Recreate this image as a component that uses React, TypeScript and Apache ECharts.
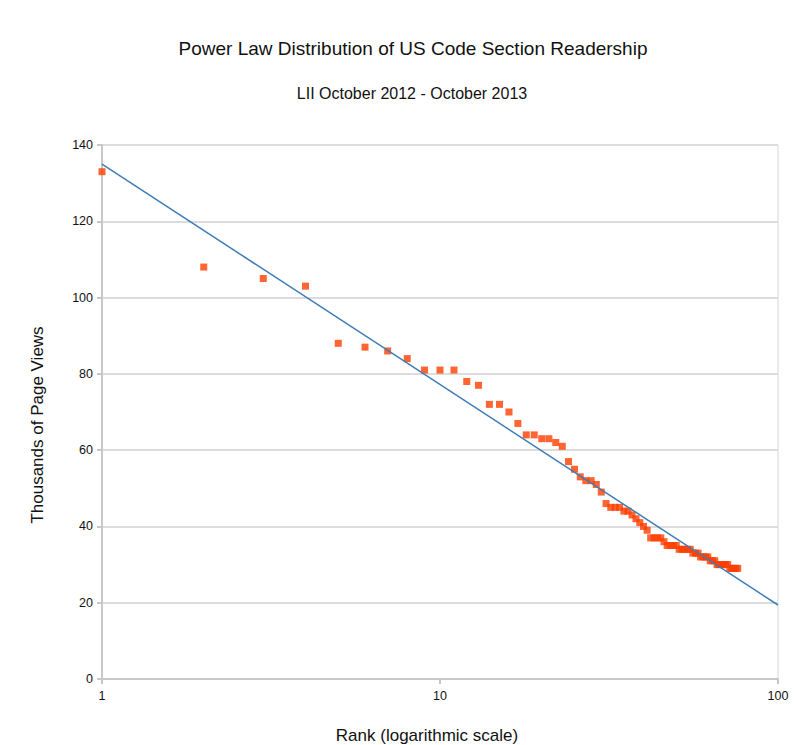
import React, { useEffect, useRef } from "react";
import * as echarts from "echarts";

const ranks: number[] = Array.from({ length: 76 }, (_, i) => i + 1);
const views: number[] = [
  133, 108, 105, 103, 88, 87, 86, 84, 81, 81,
  81, 78, 77, 72, 72, 70, 67, 64, 64, 63,
  63, 62, 61, 57, 55, 53, 52, 52, 51, 49,
  46, 45, 45, 45, 44, 44, 43, 42, 41, 40,
  39, 37, 37, 37, 37, 36, 35, 35, 35, 35,
  34, 34, 34, 34, 34, 33, 33, 33, 32, 32,
  32, 32, 31, 31, 31, 30, 30, 30, 30, 30,
  30, 29, 29, 29, 29, 29,
];
const trendRanks: number[] = [1, 100];
const trendValues: number[] = [135, 19.4];
const yTicks = { min: 0, max: 140, interval: 20 };
const titleText = "Power Law Distribution of US Code Section Readership";
const subtitleText = "LII October 2012 - October 2013";
const xName = "Rank (logarithmic scale)";
const yName = "Thousands of Page Views";

const FONT = "'Liberation Sans', Arial, Helvetica, sans-serif";

export default function App() {
  const ref = useRef<HTMLDivElement>(null);
  useEffect(() => {
    document.body.style.margin = "0";
    if (!ref.current) return;
    const chart = echarts.init(ref.current, null, { renderer: "svg" });
    const txt = (text: string, x: number, y: number, fontSize: number, rotation = 0) => ({
      type: "text",
      x,
      y,
      rotation,
      style: {
        text,
        fontSize,
        fontFamily: FONT,
        fill: "#111",
        align: "center",
        verticalAlign: "middle",
      },
    });
    chart.setOption({
      animation: false,
      backgroundColor: "#ffffff",
      textStyle: { fontFamily: FONT },
      grid: {
        left: 102,
        right: 30,
        top: 145,
        bottom: 66,
        show: true,
        borderColor: "#d6d6d6",
        borderWidth: 1,
        containLabel: false,
      },
      xAxis: {
        type: "log",
        logBase: 10,
        min: 1,
        max: 100,
        axisLine: { show: true, lineStyle: { color: "#c8c8c8", width: 2 } },
        axisTick: { show: true, length: 5, lineStyle: { color: "#c8c8c8", width: 2 } },
        minorTick: { show: false },
        splitLine: { show: false },
        axisLabel: { color: "#111", fontSize: 12.5, margin: 10, fontFamily: FONT },
      },
      yAxis: {
        type: "value",
        min: yTicks.min,
        max: yTicks.max,
        interval: yTicks.interval,
        axisLine: { show: true, lineStyle: { color: "#c8c8c8", width: 2 } },
        axisTick: { show: true, length: 5, lineStyle: { color: "#c8c8c8", width: 2 } },
        splitLine: { show: true, lineStyle: { color: "#dcdcdc", width: 2 } },
        axisLabel: { color: "#111", fontSize: 12.5, margin: 9, fontFamily: FONT },
      },
      graphic: [
        txt(titleText, 413, 48, 19),
        txt(subtitleText, 412, 93, 16),
        txt(xName, 427, 735, 17),
        txt(yName, 37, 425, 17, Math.PI / 2),
      ],
      series: [
        {
          type: "line",
          data: trendRanks.map((r, i) => [r, trendValues[i]]),
          showSymbol: false,
          symbol: "none",
          lineStyle: { color: "#3f7cb6", width: 1.5 },
          z: 3,
        },
        {
          type: "scatter",
          data: ranks.map((r, i) => [r, views[i]]),
          symbol: "rect",
          symbolSize: 7,
          itemStyle: { color: "#ff3d00" },
          z: 2,
        },
      ],
    });
    return () => chart.dispose();
  }, []);
  return <div ref={ref} style={{ width: 808, height: 745 }} />;
}
